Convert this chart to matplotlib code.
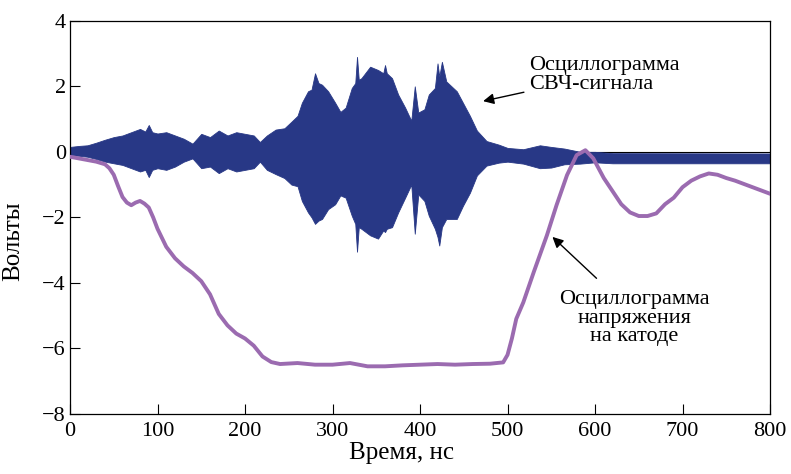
import numpy as np
import matplotlib
matplotlib.use("Agg")
import matplotlib.pyplot as plt

plt.rcParams['font.family'] = ['Liberation Serif', 'DejaVu Serif']

# envelope of the microwave signal (ns, V)
t_rf = [0, 10, 20, 30, 40, 50, 60, 70, 80, 86, 90, 94, 100, 110, 120, 130,
        140, 150, 160, 170, 180, 190, 200, 210, 217, 225, 235, 245, 253, 260,
        265, 272, 276, 280, 284, 288, 295, 303, 309, 315, 322, 326, 328, 330,
        333, 343, 352, 358, 360, 362, 368, 375, 383, 390, 394, 398, 405, 410,
        417, 420, 422, 425, 430, 442, 449, 457, 465, 476, 490, 500, 518, 537,
        550, 565, 583, 600, 620, 800]
rf_top = [0.15, 0.18, 0.2, 0.28, 0.37, 0.45, 0.5, 0.6, 0.7, 0.62, 0.82, 0.6,
          0.56, 0.6, 0.5, 0.4, 0.25, 0.55, 0.45, 0.65, 0.5, 0.6, 0.55, 0.5,
          0.3, 0.5, 0.68, 0.72, 0.92, 1.1, 1.5, 1.85, 1.9, 2.4, 2.1, 2.05,
          1.85, 1.5, 1.22, 1.35, 1.95, 2.1, 2.9, 2.2, 2.25, 2.6, 2.5, 2.4,
          2.65, 2.4, 2.25, 1.75, 1.35, 0.95, 2.0, 1.2, 1.3, 1.75, 1.95, 2.7,
          2.3, 2.75, 2.15, 1.85, 1.5, 1.1, 0.65, 0.33, 0.22, 0.12, 0.08, 0.2,
          0.15, 0.1, 0.0, 0.0, -0.04, -0.05]
rf_bot = [-0.1, -0.12, -0.15, -0.22, -0.3, -0.35, -0.4, -0.5, -0.6, -0.55,
          -0.77, -0.55, -0.5, -0.55, -0.45, -0.3, -0.2, -0.5, -0.45, -0.65,
          -0.5, -0.6, -0.55, -0.5, -0.3, -0.55, -0.68, -0.8, -1.0, -1.05,
          -1.5, -1.85, -2.0, -2.2, -2.1, -2.05, -1.75, -1.6, -1.33, -1.4,
          -1.95, -2.2, -3.05, -2.3, -2.35, -2.55, -2.65, -2.4, -2.45, -2.35,
          -2.3, -1.85, -1.4, -1.0, -2.5, -1.3, -1.5, -1.95, -2.35, -2.6,
          -2.86, -2.3, -2.05, -2.05, -1.65, -1.25, -0.72, -0.42, -0.33, -0.3,
          -0.36, -0.5, -0.48, -0.38, -0.36, -0.32, -0.35, -0.35]

# cathode voltage (ns, V)
t_cat = [0, 10, 20, 30, 40, 45, 50, 55, 60, 65, 70, 75, 80, 85, 90, 95, 100,
         110, 120, 130, 140, 150, 160, 170, 180, 190, 200, 210, 220, 230, 240,
         260, 280, 300, 320, 340, 360, 380, 400, 420, 440, 460, 480, 495, 500,
         505, 510, 518, 530, 545, 556, 568, 579, 589, 598, 610, 620, 630, 640,
         650, 660, 670, 680, 690, 700, 710, 720, 730, 740, 750, 760, 770, 780,
         790, 800]
u_cat = [-0.15, -0.2, -0.25, -0.3, -0.38, -0.5, -0.7, -1.05, -1.38, -1.55,
         -1.63, -1.55, -1.5, -1.58, -1.7, -2.0, -2.35, -2.9, -3.25, -3.5, -3.7,
         -3.95, -4.35, -4.95, -5.3, -5.55, -5.7, -5.92, -6.25, -6.42, -6.48,
         -6.45, -6.5, -6.5, -6.45, -6.55, -6.55, -6.52, -6.5, -6.48, -6.5,
         -6.48, -6.47, -6.43, -6.2, -5.7, -5.1, -4.6, -3.67, -2.55, -1.63,
         -0.71, -0.1, 0.05, -0.2, -0.8, -1.2, -1.6, -1.85, -1.96, -1.96, -1.88,
         -1.6, -1.4, -1.08, -0.88, -0.75, -0.66, -0.7, -0.8, -0.88, -0.98,
         -1.08, -1.18, -1.28]

fig = plt.figure(figsize=(7.91, 4.74), dpi=100)
ax = fig.add_axes([0.0885, 0.127, 0.885, 0.829])

ax.axhline(0, color='black', lw=0.8, zorder=1)
ax.fill_between(t_rf, rf_bot, rf_top, color='#283886', lw=0.6,
                edgecolor='#283886', zorder=2)
ax.plot(t_cat, u_cat, color='#9b6bb0', lw=2.8, zorder=3)

ax.set_xlim(0, 800)
ax.set_ylim(-8, 4)
ax.set_xticks(np.arange(0, 801, 100))
ax.set_yticks(np.arange(-8, 5, 2))
ax.tick_params(direction='in', length=7, width=0.8, labelsize=16,
               top=False, right=False)
ax.tick_params(axis='x', pad=6)
ax.tick_params(axis='y', pad=3)
for s in ax.spines.values():
    s.set_linewidth(0.9)

ax.set_xlabel('Время, нс', fontsize=18)
ax.set_ylabel('Вольты', fontsize=18)
ax.xaxis.set_label_coords(0.473, -0.072)
ax.yaxis.set_label_coords(-0.066, 0.44)

arrow = dict(arrowstyle='-|>', color='black', lw=1.0, mutation_scale=16)
ax.annotate('Осциллограмма\nСВЧ-сигнала', xy=(469, 1.53), xytext=(525, 2.36),
            fontsize=16, ha='left', va='center', linespacing=1.0,
            arrowprops=arrow)
ax.annotate('', xy=(549, -2.54), xytext=(604, -3.92), arrowprops=arrow)
ax.text(645, -5.08, 'Осциллограмма\nнапряжения\nна катоде', fontsize=16,
        ha='center', va='center', linespacing=0.95)

fig.savefig('out.png', dpi=100)
